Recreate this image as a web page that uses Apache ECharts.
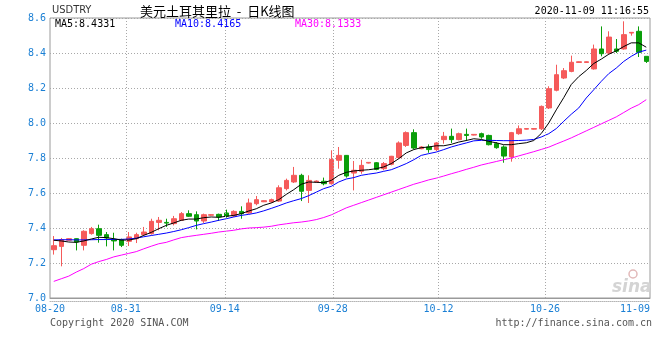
<!DOCTYPE html>
<html><head><meta charset="utf-8">
<script src="https://cdn.jsdelivr.net/npm/echarts@6/dist/echarts.min.js"></script>
<style>html,body{margin:0;padding:0;background:#fff}#c{width:660px;height:360px}</style>
</head><body><div id="c"></div>
<script>
const dates = ['08-20','08-21','08-22','08-24','08-25','08-26','08-27','08-28','08-29','08-30','08-31',
'09-01','09-02','09-03','09-04','09-05','09-07','09-08','09-09','09-10','09-11','09-12','09-13','09-14',
'09-15','09-16','09-17','09-18','09-19','09-20','09-21','09-22','09-23','09-24','09-25','09-26','09-27','09-28',
'09-29','09-30','10-01','10-02','10-03','10-04','10-05','10-06','10-07','10-08','10-09','10-10','10-11','10-12',
'10-13','10-14','10-15','10-16','10-17','10-18','10-19','10-20','10-21','10-22','10-23','10-24','10-25','10-26',
'10-27','10-28','10-29','10-30','10-31','11-01','11-02','11-03','11-04','11-05','11-06','11-07','11-08','11-09'];

const openV = [7.276,7.295,7.330,7.339,7.301,7.368,7.396,7.362,7.335,7.333,
7.324,7.339,7.362,7.368,7.432,7.432,7.425,7.444,7.482,7.476,
7.440,7.473,7.478,7.486,7.469,7.495,7.486,7.539,7.550,7.549,
7.554,7.625,7.663,7.701,7.615,7.663,7.667,7.653,7.787,7.815,
7.714,7.724,7.771,7.773,7.739,7.764,7.802,7.872,7.945,7.853,
7.863,7.848,7.905,7.924,7.905,7.935,7.931,7.939,7.929,7.882,
7.863,7.806,7.939,7.965,7.965,7.967,8.086,8.187,8.257,8.295,
8.346,8.346,8.309,8.423,8.400,8.423,8.423,8.514,8.524,8.381];
const closeV = [7.299,7.333,7.339,7.320,7.381,7.396,7.358,7.343,7.326,7.301,
7.349,7.362,7.377,7.438,7.444,7.428,7.453,7.482,7.467,7.440,
7.476,7.476,7.463,7.467,7.495,7.482,7.543,7.562,7.556,7.562,
7.630,7.672,7.701,7.610,7.672,7.668,7.653,7.792,7.815,7.697,
7.730,7.758,7.775,7.735,7.768,7.810,7.886,7.945,7.857,7.863,
7.848,7.886,7.924,7.905,7.939,7.929,7.935,7.920,7.876,7.859,
7.811,7.945,7.967,7.968,7.968,8.095,8.196,8.276,8.299,8.347,
8.350,8.350,8.423,8.396,8.491,8.410,8.505,8.518,8.404,8.352];
const lowV = [7.248,7.181,7.328,7.272,7.272,7.362,7.316,7.295,7.272,7.291,
7.297,7.314,7.354,7.362,7.387,7.406,7.415,7.440,7.463,7.392,
7.429,7.470,7.440,7.459,7.463,7.453,7.482,7.530,7.548,7.543,
7.549,7.615,7.657,7.554,7.543,7.660,7.644,7.648,7.739,7.688,
7.615,7.710,7.769,7.730,7.730,7.758,7.796,7.863,7.850,7.850,
7.830,7.840,7.882,7.886,7.901,7.897,7.929,7.910,7.872,7.853,
7.773,7.779,7.933,7.963,7.963,7.960,8.080,8.181,8.251,8.290,
8.344,8.344,8.305,8.381,8.390,8.400,8.419,8.499,8.377,8.343];
const highV = [7.354,7.343,7.341,7.341,7.387,7.406,7.419,7.377,7.373,7.339,
7.377,7.373,7.406,7.453,7.463,7.453,7.469,7.491,7.501,7.495,
7.482,7.478,7.482,7.505,7.501,7.524,7.568,7.583,7.558,7.568,
7.644,7.682,7.749,7.710,7.701,7.672,7.688,7.844,7.863,7.817,
7.783,7.790,7.777,7.777,7.777,7.812,7.895,7.952,7.964,7.868,
7.878,7.891,7.949,7.968,7.945,7.968,7.937,7.945,7.933,7.891,
7.872,7.949,7.986,7.970,7.970,8.100,8.210,8.333,8.314,8.385,
8.352,8.352,8.448,8.552,8.524,8.480,8.581,8.519,8.552,8.381];

const ma5 = [7.330,7.326,7.320,7.318,7.326,7.337,7.347,7.345,7.339,7.331,
7.331,7.339,7.358,7.375,7.396,7.415,7.429,7.444,7.451,7.451,
7.459,7.463,7.461,7.467,7.472,7.482,7.497,7.510,7.530,7.543,
7.562,7.592,7.619,7.650,7.663,7.661,7.659,7.672,7.701,7.718,
7.726,7.730,7.733,7.739,7.749,7.768,7.796,7.829,7.848,7.859,
7.863,7.870,7.870,7.878,7.891,7.900,7.910,7.906,7.895,7.887,
7.876,7.876,7.882,7.887,7.900,7.940,8.000,8.075,8.145,8.220,
8.265,8.300,8.340,8.365,8.393,8.412,8.437,8.458,8.458,8.4331];
const ma10 = [7.332,7.333,7.333,7.332,7.332,7.333,7.334,7.334,7.335,7.335,
7.337,7.342,7.350,7.357,7.364,7.371,7.380,7.390,7.402,7.415,
7.425,7.434,7.444,7.453,7.463,7.472,7.478,7.486,7.498,7.512,
7.527,7.543,7.556,7.568,7.585,7.605,7.625,7.638,7.663,7.680,
7.688,7.701,7.708,7.714,7.724,7.733,7.750,7.768,7.790,7.815,
7.825,7.834,7.848,7.863,7.875,7.886,7.898,7.901,7.901,7.900,
7.899,7.899,7.900,7.902,7.906,7.920,7.939,7.968,8.010,8.050,
8.086,8.143,8.190,8.238,8.282,8.314,8.352,8.381,8.405,8.4165];
const ma30 = [7.095,7.110,7.125,7.148,7.168,7.193,7.208,7.220,7.235,7.245,
7.255,7.265,7.281,7.296,7.310,7.318,7.332,7.345,7.352,7.358,
7.364,7.370,7.377,7.382,7.387,7.395,7.400,7.402,7.405,7.410,
7.418,7.424,7.430,7.434,7.440,7.448,7.460,7.475,7.495,7.515,
7.530,7.545,7.560,7.575,7.590,7.605,7.620,7.635,7.650,7.662,
7.675,7.685,7.697,7.710,7.722,7.735,7.747,7.760,7.770,7.780,
7.790,7.800,7.812,7.824,7.836,7.849,7.862,7.880,7.897,7.915,
7.935,7.955,7.975,7.995,8.015,8.035,8.060,8.085,8.105,8.1333];

const tickLabels = ['08-20','08-31','09-14','09-28','10-12','10-26','11-09'];
const tickPos = [-0.5, 9.6, 22.8, 37.2, 51.3, 65.5, 79.5];

const chart = echarts.init(document.getElementById('c'), null, {renderer: 'canvas'});
const ohlc = dates.map((d, i) => [openV[i], closeV[i], lowV[i], highV[i]]);
const mono = "'DejaVu Sans Mono', 'Liberation Mono', monospace";
const blueTxt = '#1a7fd4';
const upC = '#f55a5a', downC = '#0a9e0a';
const gridDot = {color: '#a8a8a8', type: [1, 2], width: 1};

const option = {
  animation: false,
  backgroundColor: '#ffffff',
  grid: {left: 50, right: 10, top: 18, bottom: 62, show: true, borderColor: '#9a9a9a', borderWidth: 1},
  xAxis: [
    {type: 'category', data: dates, boundaryGap: true,
     axisLine: {show: true, lineStyle: {color: '#9a9a9a'}}, axisTick: {show: false},
     axisLabel: {show: false}, splitLine: {show: false}},
    {type: 'value', min: -0.5, max: 79.5, position: 'bottom', offset: 3,
     axisLine: {show: true, onZero: false, lineStyle: {color: '#b5b5b5', type: [1, 1]}},
     axisTick: {show: false}, splitLine: {show: false},
     axisLabel: {customValues: tickPos, color: blueTxt, fontFamily: mono, fontSize: 10, margin: 3,
       alignMaxLabel: 'right',
       formatter: v => { const k = tickPos.findIndex(p => Math.abs(p - v) < 1e-6); return k >= 0 ? tickLabels[k] : ''; }}}
  ],
  yAxis: {type: 'value', min: 7.0, max: 8.6, interval: 0.2,
    axisLine: {show: false}, axisTick: {show: false},
    splitLine: {show: true, lineStyle: gridDot},
    axisLabel: {formatter: v => v.toFixed(1), color: blueTxt, fontFamily: mono, fontSize: 10, margin: 4,
      padding: [0, 0, 4, 0]}},
  series: [
    {type: 'line', xAxisIndex: 1, yAxisIndex: 0, data: [], silent: true,
     markLine: {silent: true, symbol: ['none', 'none'], label: {show: false}, animation: false,
       lineStyle: gridDot,
       data: tickPos.slice(1, -1).map(v => ({xAxis: v}))}},
    {type: 'line', name: 'MA30', data: ma30, showSymbol: false, symbol: 'none', lineStyle: {color: '#ff00ff', width: 1}, z: 3},
    {type: 'line', name: 'MA10', data: ma10, showSymbol: false, symbol: 'none', lineStyle: {color: '#0000ff', width: 1}, z: 3},
    {type: 'line', name: 'MA5', data: ma5, showSymbol: false, symbol: 'none', lineStyle: {color: '#000000', width: 1}, z: 4},
    {type: 'candlestick', data: ohlc, barWidth: 5, z: 2,
     itemStyle: {color: upC, color0: downC, borderColor: upC, borderColor0: downC, borderWidth: 1}}
  ],
  graphic: [
    {type: 'text', x: 52, y: 5, style: {text: 'USDTRY', font: "11px 'Liberation Sans Narrow', 'DejaVu Sans Condensed', sans-serif", fill: '#333'}},
    {type: 'text', x: 140, y: 5, style: {text: '美元土耳其里拉  -  日K线图', font: "13px 'Noto Sans CJK SC'", fill: '#000'}},
    {type: 'text', x: 649, y: 6, style: {text: '2020-11-09 11:16:55', font: "10px " + mono, fill: '#000', align: 'right'}},
    {type: 'text', x: 55, y: 19, style: {text: 'MA5:8.4331', font: "10px " + mono, fill: '#000'}},
    {type: 'text', x: 175, y: 19, style: {text: 'MA10:8.4165', font: "10px " + mono, fill: '#0000ff'}},
    {type: 'text', x: 295, y: 19, style: {text: 'MA30:8.1333', font: "10px " + mono, fill: '#ff00ff'}},
    {type: 'text', x: 50, y: 318, style: {text: 'Copyright 2020 SINA.COM', font: "10px " + mono, fill: '#555'}},
    {type: 'text', x: 652, y: 318, style: {text: 'http://finance.sina.com.cn', font: "10px " + mono, fill: '#555', align: 'right'}},
    {type: 'circle', shape: {cx: 633, cy: 274, r: 4}, style: {fill: 'none', stroke: '#e2b9b9', lineWidth: 1.5}, z: 0},
    {type: 'text', x: 612, y: 279, style: {text: 'sina', font: "italic bold 17px 'DejaVu Sans', sans-serif", fill: '#d4d4d4'}, z: 0}
  ]
};
chart.setOption(option);
</script></body></html>
